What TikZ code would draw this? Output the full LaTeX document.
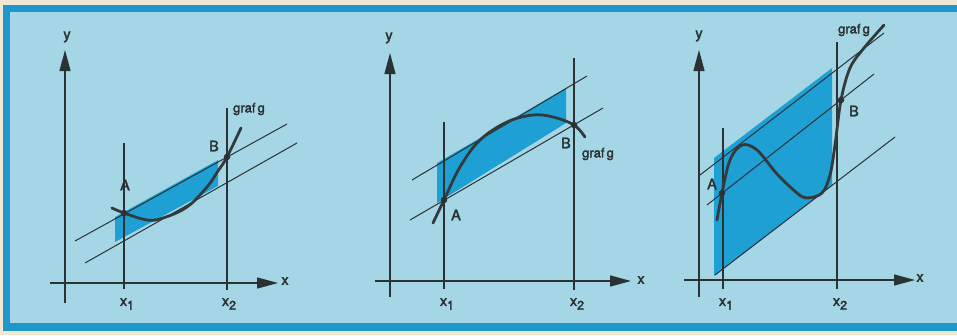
\documentclass[tikz,border=0pt]{standalone}
\usepackage{fontspec}
\setmainfont{TeX Gyre Heros}[UprightFeatures={FakeBold=2.5}]
\usetikzlibrary{arrows.meta}
\definecolor{cream}{HTML}{EFE8D4}
\definecolor{framebl}{HTML}{1E98CC}
\definecolor{bgbl}{HTML}{A5D6E5}
\definecolor{fillbl}{HTML}{1FA0D4}
\definecolor{ink}{HTML}{2A3234}
\newcommand{\xsubl}[1]{x\raisebox{-0.5ex}{\fontsize{12.5}{12}\selectfont #1}}
\tikzset{
  axis/.style={draw=ink, line width=1.3pt, -{Triangle[length=21pt,width=11pt]}},
  guide/.style={draw=ink, line width=1.1pt},
  secant/.style={draw=ink, line width=1pt},
  graph/.style={draw=ink!90!gray, line width=2.8pt, line cap=round},
  band/.style={fill=fillbl},
  lbl/.style={text=ink, font=\fontsize{14.5}{14}\selectfont, inner sep=0pt},
  small/.style={text=ink, font=\fontsize{13}{13}\selectfont, inner sep=0pt},
  dot/.style={circle, fill=ink, inner sep=0pt, minimum size=6.5pt}
}
\begin{document}
\begin{tikzpicture}[x=1pt,y=-1pt]
\useasboundingbox (0,0) rectangle (957,335);
% background and frame
\fill[cream] (0,0) rectangle (957,335);
\fill[framebl] (3,5) rectangle (960,331);
\fill[bgbl] (10,12) rectangle (960,323);

%================ Panel 1 ================
\fill[band] (115,217) -- (218,160) -- (218,186) -- (115,242) -- cycle;
\coordinate (A1) at (124,213);
\coordinate (B1) at (227,157);
\coordinate (u1s) at (75,241); \coordinate (u1e) at (287,124);
\coordinate (l1s) at (85,263); \coordinate (l1e) at (297,143);
\draw[secant] (u1s) -- (u1e);
\draw[secant] (l1s) -- (l1e);
\coordinate (v1a) at (124,143); \coordinate (v1b) at (124,289);
\coordinate (v2a) at (227,108); \coordinate (v2b) at (227,290);
\draw[guide] (v1a) -- (v1b);
\draw[guide] (v2a) -- (v2b);
\coordinate (ya1) at (65,303); \coordinate (yb1) at (65,50);
\coordinate (xa1) at (50,283); \coordinate (xb1) at (278,283);
\draw[axis] (ya1) -- (yb1);
\draw[axis] (xa1) -- (xb1);
\draw[graph] plot[smooth,tension=0.6] coordinates {(112,208) (124,213) (147,220) (163,218) (187,207) (207,187) (218,171) (227,157) (241,128)};
\node[dot] (pA1) at (A1) {};
\node[dot] (pB1) at (B1) {};
\node[lbl] (tA1) at (125,185) {A};
\node[lbl] (tB1) at (214,146) {B};
\node[small] (tg1) at (249,109) {graf\,g};
\node[lbl] (ty1) at (67,37) {y};
\node[lbl] (tx1) at (285,281) {x};
\node[lbl] (tx11) at (127,304) {\xsubl{1}};
\node[lbl] (tx21) at (229,304) {\xsubl{2}};

%================ Panel 2 ================
\fill[band] (437,163) -- (566,88) -- (566,123) -- (437,203) -- cycle;
\coordinate (A2) at (444,200);
\coordinate (B2) at (574,125);
\coordinate (u2s) at (412,180); \coordinate (u2e) at (587,76);
\coordinate (l2s) at (410,220); \coordinate (l2e) at (603,108);
\draw[secant] (u2s) -- (u2e);
\draw[secant] (l2s) -- (l2e);
\coordinate (w1a) at (444,122); \coordinate (w1b) at (444,289);
\coordinate (w2a) at (574,58); \coordinate (w2b) at (574,290);
\draw[guide] (w1a) -- (w1b);
\draw[guide] (w2a) -- (w2b);
\coordinate (ya2) at (390,297); \coordinate (yb2) at (390,53);
\coordinate (xa2) at (375,281); \coordinate (xb2) at (631,281);
\draw[axis] (ya2) -- (yb2);
\draw[axis] (xa2) -- (xb2);
\draw[graph] plot[smooth,tension=0.6] coordinates {(433,223) (444,200) (460,167) (480,140) (507,122) (533,115) (553,117) (574,125) (585,137)};
\node[dot] (pA2) at (A2) {};
\node[dot] (pB2) at (B2) {};
\node[lbl] (tA2) at (456,215) {A};
\node[lbl] (tB2) at (566,143) {B};
\node[small] (tg2) at (598,154) {graf\,g};
\node[lbl] (ty2) at (389,38) {y};
\node[lbl] (tx2) at (641,280) {x};
\node[lbl] (tx12) at (447,304) {\xsubl{1}};
\node[lbl] (tx22) at (577,304) {\xsubl{2}};

%================ Panel 3 ================
\fill[band] (714,158) -- (832,68) -- (832,186) -- (714,276) -- cycle;
\coordinate (A3) at (722,193);
\coordinate (B3) at (841,100);
\coordinate (u3s) at (700,175); \coordinate (u3e) at (884,33);
\coordinate (m3s) at (707,205); \coordinate (m3e) at (874,74);
\coordinate (l3s) at (715,275); \coordinate (l3e) at (895,137);
\draw[secant] (u3s) -- (u3e);
\draw[secant] (m3s) -- (m3e);
\draw[secant] (l3s) -- (l3e);
\coordinate (z1a) at (723,128); \coordinate (z1b) at (723,289);
\coordinate (z2a) at (837,42); \coordinate (z2b) at (837,289);
\draw[guide] (z1a) -- (z1b);
\draw[guide] (z2a) -- (z2b);
\coordinate (ya3) at (699,297); \coordinate (yb3) at (699,50);
\coordinate (xa3) at (684,280); \coordinate (xb3) at (915,280);
\draw[axis] (ya3) -- (yb3);
\draw[axis] (xa3) -- (xb3);
\draw[graph] plot[smooth,tension=0.55] coordinates {(717,220) (722,193) (730,160) (742,145) (757,150) (777,174) (797,193) (807,198) (822,193) (830,175) (835,145) (841,100) (850,68) (864,48) (884,25)};
\node[dot] (pA3) at (A3) {};
\node[dot] (pB3) at (B3) {};
\node[lbl] (tA3) at (712,184) {A};
\node[lbl] (tB3) at (854,111) {B};
\node[small] (tg3) at (854,30) {graf\,g};
\node[lbl] (ty3) at (699,36) {y};
\node[lbl] (tx3) at (920,278) {x};
\node[lbl] (tx13) at (726,304) {\xsubl{1}};
\node[lbl] (tx23) at (840,304) {\xsubl{2}};
\end{tikzpicture}
\end{document}
